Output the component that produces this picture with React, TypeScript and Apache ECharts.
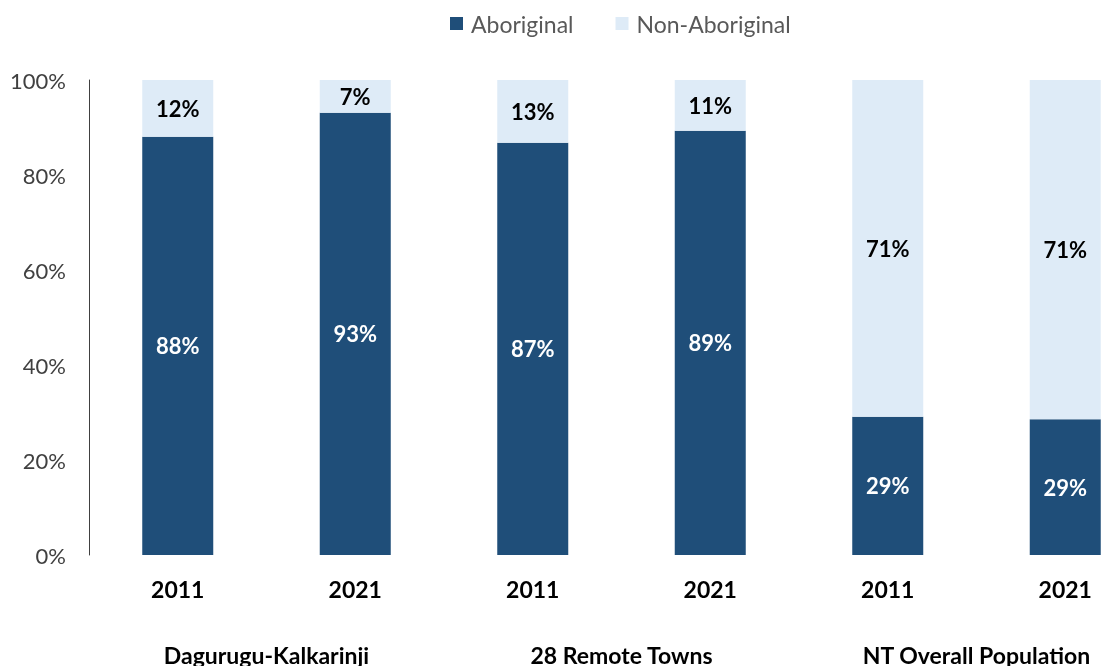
import React, { useEffect, useRef } from "react";
import * as echarts from "echarts";

const years = ["2011", "2021", "2011", "2021", "2011", "2021"];
const groups = ["Dagurugu-Kalkarinji", "28 Remote Towns", "NT Overall Population"];
const aboriginal = [88.05, 93.1, 86.8, 89.3, 29.1, 28.6];
const nonAboriginal = aboriginal.map((v) => 100 - v);
const yTicks = [0, 20, 40, 60, 80, 100];

const FONT = "Lato";
const CHART_W = 1160;

export default function App() {
  const ref = useRef<HTMLDivElement>(null);
  useEffect(() => {
    if (!ref.current) return;
    const chart = echarts.init(ref.current, undefined, { renderer: "svg" });
    chart.setOption({
      animation: false,
      textStyle: { fontFamily: FONT },
      legend: {
        top: 7,
        left: 445,
        itemWidth: 13,
        itemHeight: 13,
        itemGap: 42,
        icon: "rect",
        textStyle: { fontFamily: FONT, fontSize: 23, color: "#595959", padding: [0, 0, 0, 3] },
        data: ["Aboriginal", "Non-Aboriginal"],
      },
      grid: { left: 89, right: CHART_W - 1154, top: 80, bottom: 109, containLabel: false },
      xAxis: [
        {
          type: "category",
          data: years,
          axisLine: { show: false },
          axisTick: { show: false },
          axisLabel: {
            margin: 22,
            fontFamily: FONT,
            fontSize: 23,
            fontWeight: "bold",
            color: "#000",
          },
        },
        {
          type: "category",
          data: groups,
          position: "bottom",
          axisLine: { show: false },
          axisTick: { show: false },
          axisLabel: {
            margin: 88,
            fontFamily: FONT,
            fontSize: 23,
            fontWeight: "bold",
            color: "#000",
          },
        },
      ],
      yAxis: {
        type: "value",
        min: 0,
        max: 100,
        interval: 20,
        axisLine: { show: true, lineStyle: { color: "#404040", width: 1 } },
        axisTick: { show: false },
        splitLine: { show: false },
        axisLabel: {
          margin: 23,
          fontFamily: FONT,
          fontSize: 22,
          color: "#404040",
          formatter: (v: number) => (yTicks.includes(v) ? v + "%" : ""),
        },
      },
      series: [
        {
          name: "Aboriginal",
          type: "bar",
          stack: "total",
          barWidth: 71,
          data: aboriginal,
          itemStyle: { color: "#1F4E79" },
          label: {
            show: true,
            position: "inside",
            fontFamily: FONT,
            fontSize: 22,
            fontWeight: "bold",
            color: "#fff",
            formatter: (p: any) => Math.round(p.value) + "%",
          },
        },
        {
          name: "Non-Aboriginal",
          type: "bar",
          stack: "total",
          barWidth: 71,
          data: nonAboriginal,
          itemStyle: { color: "#DEEBF7" },
          label: {
            show: true,
            position: "inside",
            fontFamily: FONT,
            fontSize: 22,
            fontWeight: "bold",
            color: "#000",
            formatter: (p: any) => Math.round(p.value) + "%",
          },
        },
      ],
    });
    return () => chart.dispose();
  }, []);
  return (
    <div
      style={{ position: "fixed", left: 0, top: 0, width: 1107, height: 666, overflow: "hidden" }}
    >
      <div ref={ref} style={{ width: CHART_W, height: 666 }} />
    </div>
  );
}
